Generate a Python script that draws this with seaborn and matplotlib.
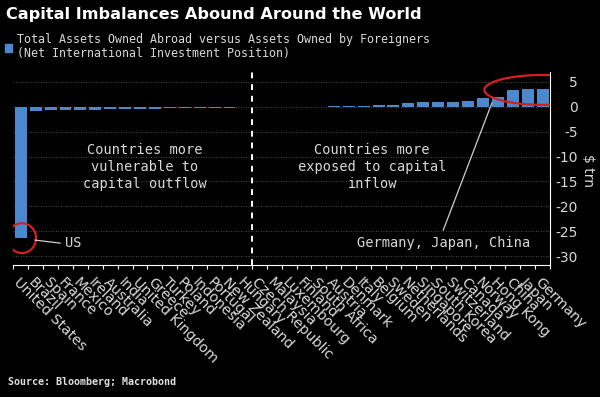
import matplotlib

matplotlib.use('Agg')
import matplotlib.pyplot as plt
import seaborn as sns
import numpy as np
from matplotlib.patches import Ellipse, Rectangle

# 各国净国际投资头寸（万亿美元）
countries = ["United States", "Brazil", "Spain", "France", "Mexico", "Ireland",
             "Australia", "India", "United Kingdom", "Greece", "Turkey", "Poland",
             "Indonesia", "Portugal", "New Zealand", "Hungary", "Czech Republic",
             "Malaysia", "Luxembourg", "Finland", "South Africa", "Austria",
             "Denmark", "Italy", "Belgium", "Sweden", "Netherlands", "Singapore",
             "South Korea", "Switzerland", "Canada", "Norway", "Hong Kong",
             "China", "Japan", "Germany"]
niip_trn = [-26.4, -0.75, -0.7, -0.65, -0.6, -0.55, -0.5, -0.45, -0.4, -0.35,
            -0.3, -0.28, -0.25, -0.2, -0.15, -0.1, -0.06, -0.03, 0.02, 0.04,
            0.06, 0.1, 0.15, 0.2, 0.28, 0.4, 0.75, 0.9, 1.0, 1.05, 1.25, 1.7,
            1.9, 3.3, 3.5, 3.6]
y_ticks = [5, 0, -5, -10, -15, -20, -25, -30]

BAR = "#4a88d0"
TXT = "#d8d8d8"
MONO = "DejaVu Sans Mono"

plt.rcParams["axes.unicode_minus"] = False

W, H = 600, 397
fig = plt.figure(figsize=(W / 100, H / 100), dpi=100, facecolor="black")
ax = fig.add_axes([13.3 / W, 1 - 265 / H, (550 - 13.3) / W, (265 - 72) / H])
ax.set_facecolor("black")

sns.barplot(x=countries, y=niip_trn, color=BAR, saturation=1, width=0.8, ax=ax)
ax.set_xlim(-0.5, len(countries) - 0.5)
ax.set_ylim(-31.8, 7)

# 坐标轴样式
for s in ["left", "top"]:
    ax.spines[s].set_visible(False)
ax.spines["right"].set_color("white")
ax.spines["bottom"].set_color("white")
ax.yaxis.tick_right()
ax.set_yticks(y_ticks)
ax.tick_params(axis="y", length=0, pad=20, labelsize=10, labelcolor=TXT)
for lab in ax.get_yticklabels():
    lab.set_ha("right")
ax.grid(axis="y", color="#666666", linestyle=(0, (1, 2)), linewidth=0.6)
ax.set_axisbelow(True)
ax.set_xlabel("")
ax.set_ylabel("")

ax.set_xticks(range(len(countries)))
ax.set_xticklabels(countries, rotation=-45, ha="left", va="top", rotation_mode="anchor")
ax.tick_params(axis="x", which="major", length=0, pad=7, labelsize=10.3, labelcolor=TXT)
ax.set_xticks(np.arange(-0.5, len(countries), 1), minor=True)
ax.tick_params(axis="x", which="minor", length=3, color="white", width=0.8)

# 分隔线 + 标注
ax.axvline(15.5, color="white", linestyle=(0, (3, 3)), lw=1.4)
ax.add_patch(Ellipse((0.08, -26.4), 1.9, 6.0, fill=False, edgecolor="#d42020", lw=1.6))
ax.add_patch(Ellipse((35.0, 3.4), 7.8, 6.0, fill=False, edgecolor="#d42020", lw=1.6))

ax.plot([0.96, 2.64], [-26.8, -27.4], color="#cfcfcf", lw=0.9)
ax.text(2.97, -27.4, "US", family=MONO, fontsize=9.8, color=TXT, va="center", ha="left")
ax.plot([28.34, 31.6], [-24.8, 0.75], color="#cfcfcf", lw=0.9)
ax.text(28.34, -27.3, "Germany, Japan, China", family=MONO, fontsize=9.8, color=TXT,
        va="center", ha="center")

ax.text(8.34, -12.1, "Countries more\nvulnerable to\ncapital outflow", family=MONO,
        fontsize=9.8, color=TXT, ha="center", va="center", linespacing=1.3)
ax.text(23.57, -12.1, "Countries more\nexposed to capital\ninflow", family=MONO,
        fontsize=9.8, color=TXT, ha="center", va="center", linespacing=1.3)

# 标题、图例、来源
fig.text(6 / W, 1 - 15 / H, "Capital Imbalances Abound Around the World",
         fontsize=11.6, weight="bold", color="white", va="center")
fig.add_artist(Rectangle((5 / W, 1 - 52 / H), 7 / W, 8 / H, transform=fig.transFigure,
                         color=BAR))
fig.text(17 / W, 1 - 40 / H, "Total Assets Owned Abroad versus Assets Owned by Foreigners",
         family=MONO, fontsize=8.4, color=TXT, va="center")
fig.text(17 / W, 1 - 54 / H, "(Net International Investment Position)",
         family=MONO, fontsize=8.4, color=TXT, va="center")
fig.text(588 / W, 1 - 170 / H, "$ trn", rotation=-90, ha="center", va="center",
         fontsize=10, color=TXT)
fig.text(8 / W, 1 - 382 / H, "Source: Bloomberg; Macrobond", family=MONO,
         weight="bold", fontsize=7.2, color="#e0e0e0", va="center")

fig.savefig("out.png", dpi=100, facecolor="black")
plt.close(fig)
